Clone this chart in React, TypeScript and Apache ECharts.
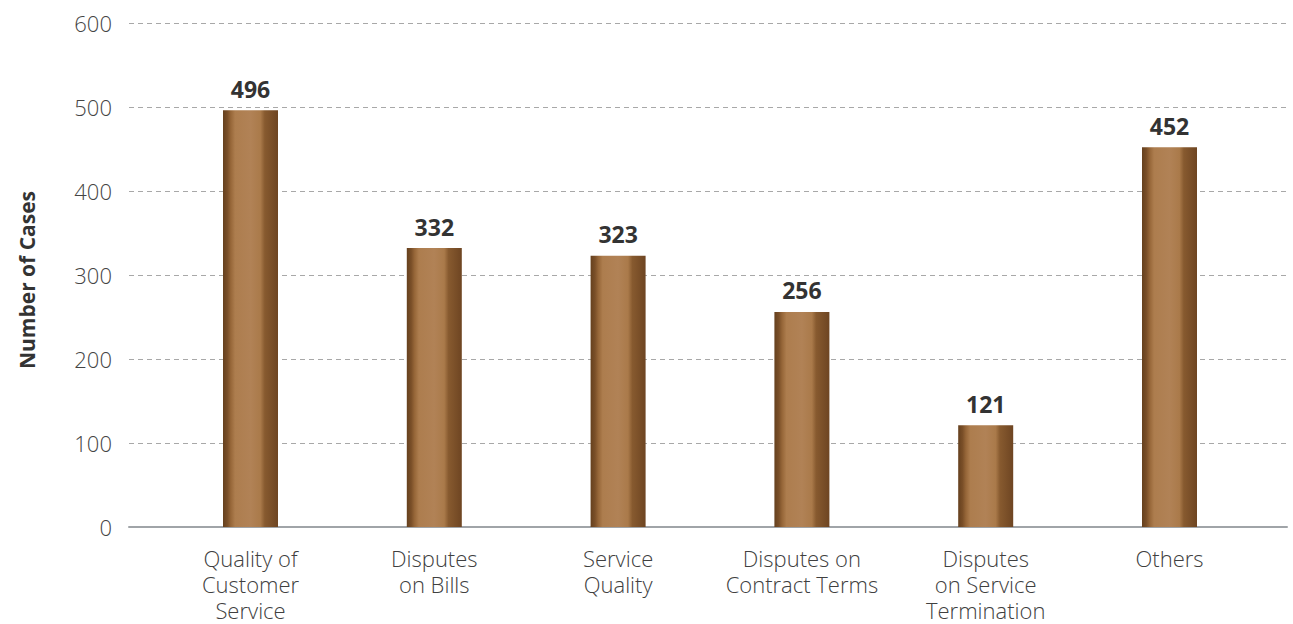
import React, { useEffect, useRef } from "react";
import * as echarts from "echarts";

const categories = [
  "Quality of\nCustomer\nService",
  "Disputes\non Bills",
  "Service\nQuality",
  "Disputes on\nContract Terms",
  "Disputes\non Service\nTermination",
  "Others",
];
const cases = [496, 332, 323, 256, 121, 452];
const yTicks = [0, 100, 200, 300, 400, 500, 600];

const FONT = "'Open Sans', 'Noto Sans', sans-serif";

export default function App() {
  const ref = useRef<HTMLDivElement>(null);
  useEffect(() => {
    if (!ref.current) return;
    const chart = echarts.init(ref.current, undefined, { renderer: "svg" });
    const barColor = new echarts.graphic.LinearGradient(0, 0, 1, 0, [
      { offset: 0, color: "#65401e" },
      { offset: 0.08, color: "#7a4f28" },
      { offset: 0.14, color: "#966638" },
      { offset: 0.22, color: "#ad7d4e" },
      { offset: 0.5, color: "#b18256" },
      { offset: 0.68, color: "#aa7a4a" },
      { offset: 0.76, color: "#875a2f" },
      { offset: 1, color: "#6e4522" },
    ]);
    chart.setOption({
      animation: false,
      grid: [
        { left: 129, right: 6, top: 23, bottom: 97 },
        { left: 158.6, right: 31.6, top: 23, bottom: 97 },
      ],
      xAxis: [
        {
          type: "category",
          gridIndex: 0,
          data: categories,
          axisLine: { show: true, lineStyle: { color: "#a0a4a8", width: 2 } },
          axisTick: { show: false },
          axisLabel: { show: false },
        },
        {
          type: "category",
          gridIndex: 1,
          data: categories,
          axisLine: { show: false },
          axisTick: { show: false },
          axisLabel: {
            show: true,
            interval: 0,
            fontFamily: FONT,
            fontSize: 22,
            fontWeight: 300,
            color: "#404040",
            lineHeight: 26,
            margin: 18,
          },
        },
      ],
      yAxis: [
        {
          type: "value",
          gridIndex: 0,
          min: 0,
          max: 600,
          interval: 100,
          name: "Number of Cases",
          nameLocation: "middle",
          nameGap: 92,
          nameRotate: 90,
          nameTextStyle: {
            fontFamily: FONT,
            fontSize: 21,
            fontWeight: "bold",
            color: "#333",
            padding: [0, 10, 0, 0],
          },
          axisLine: { show: false },
          axisTick: { show: false },
          axisLabel: {
            fontFamily: FONT,
            fontSize: 22,
            fontWeight: 300,
            color: "#444",
            margin: 17,
            formatter: (v: number) => (yTicks.includes(v) ? String(v) : ""),
          },
          splitLine: {
            show: true,
            lineStyle: { color: "#a8a8a8", type: [5, 4], width: 1 },
          },
        },
        {
          type: "value",
          gridIndex: 1,
          min: 0,
          max: 600,
          interval: 100,
          show: false,
          splitLine: { show: false },
        },
      ],
      series: [
        {
          type: "bar",
          xAxisIndex: 1,
          yAxisIndex: 1,
          data: cases,
          barWidth: 55,
          itemStyle: { color: barColor },
          label: {
            show: true,
            position: "top",
            distance: 10,
            fontFamily: FONT,
            fontSize: 23,
            fontWeight: "bold",
            color: "#333",
          },
        },
      ],
    });
    return () => chart.dispose();
  }, []);
  return <div ref={ref} style={{ width: 1293, height: 624, position: "absolute", left: 0, top: 0 }} />;
}
